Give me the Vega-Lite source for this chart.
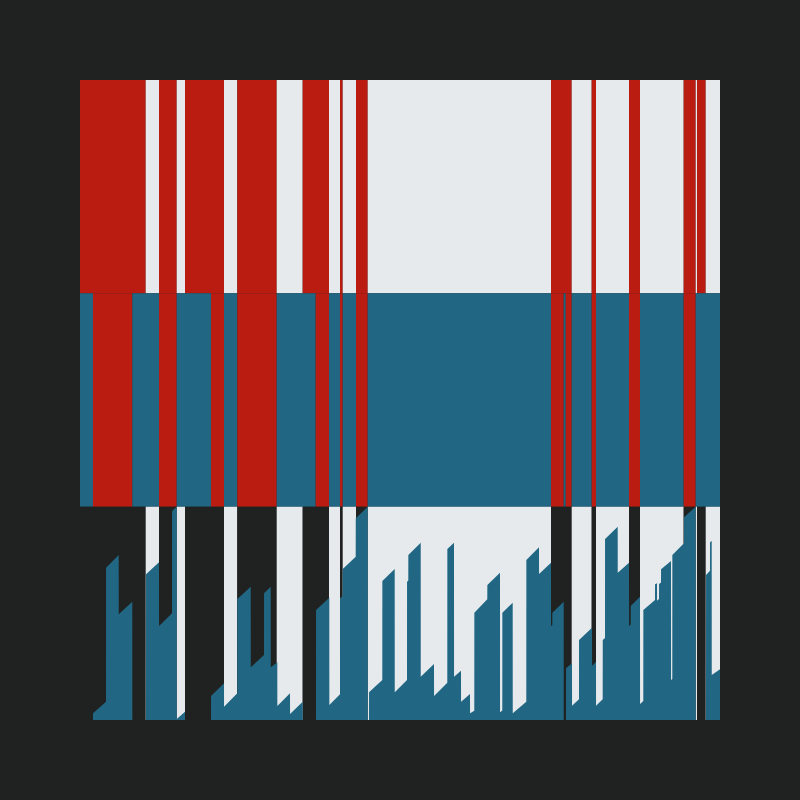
{
  "$schema": "https://vega.github.io/schema/vega-lite/v6.json",
  "width": 640,
  "height": 640,
  "padding": 80,
  "background": "#202221",
  "config": {"view": {"stroke": null}},
  "datasets": {
    "segs": [
      {"band": "top", "x0": 80, "x1": 145.7, "c": "red"},
      {"band": "top", "x0": 145.7, "x1": 159, "c": "light"},
      {"band": "top", "x0": 159, "x1": 176.7, "c": "red"},
      {"band": "top", "x0": 176.7, "x1": 185, "c": "light"},
      {"band": "top", "x0": 185, "x1": 224, "c": "red"},
      {"band": "top", "x0": 224, "x1": 237.3, "c": "light"},
      {"band": "top", "x0": 237.3, "x1": 276.7, "c": "red"},
      {"band": "top", "x0": 276.7, "x1": 302.7, "c": "light"},
      {"band": "top", "x0": 302.7, "x1": 329, "c": "red"},
      {"band": "top", "x0": 329, "x1": 340, "c": "light"},
      {"band": "top", "x0": 340, "x1": 342.7, "c": "red"},
      {"band": "top", "x0": 342.7, "x1": 356, "c": "light"},
      {"band": "top", "x0": 356, "x1": 367.7, "c": "red"},
      {"band": "top", "x0": 367.7, "x1": 551, "c": "light"},
      {"band": "top", "x0": 551, "x1": 571.7, "c": "red"},
      {"band": "top", "x0": 571.7, "x1": 591.7, "c": "light"},
      {"band": "top", "x0": 591.7, "x1": 596, "c": "red"},
      {"band": "top", "x0": 596, "x1": 629, "c": "light"},
      {"band": "top", "x0": 629, "x1": 640, "c": "red"},
      {"band": "top", "x0": 640, "x1": 683.7, "c": "light"},
      {"band": "top", "x0": 683.7, "x1": 695.7, "c": "red"},
      {"band": "top", "x0": 695.7, "x1": 697, "c": "light"},
      {"band": "top", "x0": 697, "x1": 705.7, "c": "red"},
      {"band": "top", "x0": 705.7, "x1": 720, "c": "light"},
      {"band": "mid", "x0": 80, "x1": 93, "c": "blue"},
      {"band": "mid", "x0": 93, "x1": 132.3, "c": "red"},
      {"band": "mid", "x0": 132.3, "x1": 159, "c": "blue"},
      {"band": "mid", "x0": 159, "x1": 176.7, "c": "red"},
      {"band": "mid", "x0": 176.7, "x1": 211, "c": "blue"},
      {"band": "mid", "x0": 211, "x1": 224, "c": "red"},
      {"band": "mid", "x0": 224, "x1": 237.3, "c": "blue"},
      {"band": "mid", "x0": 237.3, "x1": 276.7, "c": "red"},
      {"band": "mid", "x0": 276.7, "x1": 315.7, "c": "blue"},
      {"band": "mid", "x0": 315.7, "x1": 329, "c": "red"},
      {"band": "mid", "x0": 329, "x1": 340, "c": "blue"},
      {"band": "mid", "x0": 340, "x1": 342.7, "c": "red"},
      {"band": "mid", "x0": 342.7, "x1": 356, "c": "blue"},
      {"band": "mid", "x0": 356, "x1": 367.7, "c": "red"},
      {"band": "mid", "x0": 367.7, "x1": 551, "c": "blue"},
      {"band": "mid", "x0": 551, "x1": 563.7, "c": "red"},
      {"band": "mid", "x0": 563.7, "x1": 565.7, "c": "blue"},
      {"band": "mid", "x0": 565.7, "x1": 571.7, "c": "red"},
      {"band": "mid", "x0": 571.7, "x1": 591.7, "c": "blue"},
      {"band": "mid", "x0": 591.7, "x1": 596, "c": "red"},
      {"band": "mid", "x0": 596, "x1": 629, "c": "blue"},
      {"band": "mid", "x0": 629, "x1": 640, "c": "red"},
      {"band": "mid", "x0": 640, "x1": 683.7, "c": "blue"},
      {"band": "mid", "x0": 683.7, "x1": 695.7, "c": "red"},
      {"band": "mid", "x0": 695.7, "x1": 720, "c": "blue"},
      {"band": "bot", "x0": 80, "x1": 145.7, "c": "dark"},
      {"band": "bot", "x0": 145.7, "x1": 159, "c": "light"},
      {"band": "bot", "x0": 159, "x1": 176.7, "c": "dark"},
      {"band": "bot", "x0": 176.7, "x1": 185, "c": "light"},
      {"band": "bot", "x0": 185, "x1": 224, "c": "dark"},
      {"band": "bot", "x0": 224, "x1": 237.3, "c": "light"},
      {"band": "bot", "x0": 237.3, "x1": 276.7, "c": "dark"},
      {"band": "bot", "x0": 276.7, "x1": 302.7, "c": "light"},
      {"band": "bot", "x0": 302.7, "x1": 329, "c": "dark"},
      {"band": "bot", "x0": 329, "x1": 340, "c": "light"},
      {"band": "bot", "x0": 340, "x1": 342.7, "c": "dark"},
      {"band": "bot", "x0": 342.7, "x1": 356, "c": "light"},
      {"band": "bot", "x0": 356, "x1": 367.7, "c": "dark"},
      {"band": "bot", "x0": 367.7, "x1": 551, "c": "light"},
      {"band": "bot", "x0": 551, "x1": 571.7, "c": "dark"},
      {"band": "bot", "x0": 571.7, "x1": 591.7, "c": "light"},
      {"band": "bot", "x0": 591.7, "x1": 596, "c": "dark"},
      {"band": "bot", "x0": 596, "x1": 629, "c": "light"},
      {"band": "bot", "x0": 629, "x1": 640, "c": "dark"},
      {"band": "bot", "x0": 640, "x1": 683.7, "c": "light"},
      {"band": "bot", "x0": 683.7, "x1": 695.7, "c": "dark"},
      {"band": "bot", "x0": 695.7, "x1": 697, "c": "light"},
      {"band": "bot", "x0": 697, "x1": 705.7, "c": "dark"},
      {"band": "bot", "x0": 705.7, "x1": 720, "c": "light"}
    ],
    "area": [
      {"x": 93, "v": 0}, {"x": 93.05, "v": 6.7}, {"x": 106, "v": 18.3}, {"x": 106.05, "v": 152.3},
      {"x": 118.7, "v": 165}, {"x": 118.75, "v": 105.7}, {"x": 132.3, "v": 118.3}, {"x": 132.35, "v": 0},
      {"x": 146, "v": 0}, {"x": 146.05, "v": 145.7}, {"x": 159, "v": 157.7}, {"x": 159.05, "v": 94},
      {"x": 172, "v": 106.7}, {"x": 172.05, "v": 209}, {"x": 176.7, "v": 213.3}, {"x": 176.75, "v": 1},
      {"x": 185, "v": 8.3}, {"x": 185.05, "v": 0}, {"x": 211, "v": 0}, {"x": 211.05, "v": 24},
      {"x": 224, "v": 36.7}, {"x": 224.05, "v": 13.3}, {"x": 237.3, "v": 26.7}, {"x": 237.35, "v": 121},
      {"x": 250.7, "v": 133.3}, {"x": 250.75, "v": 52.7}, {"x": 264, "v": 65}, {"x": 264.05, "v": 126.7},
      {"x": 270.7, "v": 133.3}, {"x": 270.75, "v": 52.7}, {"x": 277.3, "v": 57.7}, {"x": 277.35, "v": 14},
      {"x": 290, "v": 26.7}, {"x": 290.05, "v": 6}, {"x": 302.7, "v": 18.3}, {"x": 302.75, "v": 0},
      {"x": 316, "v": 0}, {"x": 316.05, "v": 110}, {"x": 329.3, "v": 122.3}, {"x": 329.35, "v": 15},
      {"x": 340, "v": 25.7}, {"x": 340.05, "v": 121.7}, {"x": 342.7, "v": 124}, {"x": 342.75, "v": 151},
      {"x": 355.7, "v": 163.3}, {"x": 355.75, "v": 201.7}, {"x": 367.7, "v": 213.3}, {"x": 367.75, "v": 0},
      {"x": 369, "v": 0}, {"x": 369.05, "v": 27.7}, {"x": 382.3, "v": 40}, {"x": 382.35, "v": 139},
      {"x": 394.7, "v": 151}, {"x": 394.75, "v": 27.7}, {"x": 407, "v": 40}, {"x": 407.05, "v": 138.3},
      {"x": 408.3, "v": 139.5}, {"x": 408.35, "v": 165}, {"x": 420.7, "v": 177.3}, {"x": 420.75, "v": 43.3},
      {"x": 434, "v": 56}, {"x": 434.05, "v": 24}, {"x": 447.3, "v": 37.3}, {"x": 447.35, "v": 171},
      {"x": 454, "v": 177.3}, {"x": 454.05, "v": 43.3}, {"x": 461, "v": 49.3}, {"x": 461.05, "v": 18.3},
      {"x": 470, "v": 26}, {"x": 470.05, "v": 6.7}, {"x": 474.3, "v": 9.3}, {"x": 474.35, "v": 107.3},
      {"x": 487.3, "v": 120.7}, {"x": 487.35, "v": 135}, {"x": 500, "v": 147.3}, {"x": 500.05, "v": 7.7},
      {"x": 502.3, "v": 9.5}, {"x": 502.35, "v": 107.3}, {"x": 512.7, "v": 117.3}, {"x": 512.75, "v": 6.7},
      {"x": 526.3, "v": 18.3}, {"x": 526.35, "v": 160}, {"x": 539, "v": 172.7}, {"x": 539.05, "v": 146},
      {"x": 551, "v": 157.3}, {"x": 551.05, "v": 94}, {"x": 552.3, "v": 95}, {"x": 552.35, "v": 107.3},
      {"x": 563.7, "v": 118.3}, {"x": 563.75, "v": 0}, {"x": 566, "v": 0}, {"x": 566.05, "v": 51.7},
      {"x": 572, "v": 56.7}, {"x": 572.05, "v": 14.3}, {"x": 579, "v": 20.7}, {"x": 579.05, "v": 80},
      {"x": 592, "v": 92.3}, {"x": 592.05, "v": 54.3}, {"x": 596, "v": 58}, {"x": 596.05, "v": 14.3},
      {"x": 602.7, "v": 20.7}, {"x": 602.75, "v": 80}, {"x": 605, "v": 82}, {"x": 605.05, "v": 181},
      {"x": 617.7, "v": 193.3}, {"x": 617.75, "v": 147.3}, {"x": 629, "v": 157.3}, {"x": 629.05, "v": 94},
      {"x": 630.7, "v": 95.5}, {"x": 630.75, "v": 114}, {"x": 640, "v": 123.3}, {"x": 640.05, "v": 16},
      {"x": 643.3, "v": 19}, {"x": 643.35, "v": 110}, {"x": 655, "v": 120}, {"x": 655.05, "v": 135.7},
      {"x": 657, "v": 136.7}, {"x": 657.05, "v": 119.3}, {"x": 659, "v": 121}, {"x": 659.05, "v": 136},
      {"x": 661, "v": 137.5}, {"x": 661.05, "v": 150.7}, {"x": 671, "v": 159}, {"x": 671.05, "v": 40},
      {"x": 672.3, "v": 41}, {"x": 672.35, "v": 165}, {"x": 684, "v": 176.7}, {"x": 684.05, "v": 202.7},
      {"x": 695.7, "v": 213.3}, {"x": 695.75, "v": 0}, {"x": 706, "v": 0}, {"x": 706.05, "v": 145},
      {"x": 710, "v": 149.3}, {"x": 710.05, "v": 177.7}, {"x": 711.7, "v": 179}, {"x": 711.75, "v": 45},
      {"x": 720, "v": 50.7}
    ]
  },
  "layer": [
    {
      "data": {"name": "segs"},
      "mark": {"type": "rect"},
      "encoding": {
        "x": {"field": "x0", "type": "quantitative", "scale": {"domain": [80, 720], "nice": false, "zero": false}, "axis": null},
        "x2": {"field": "x1"},
        "y": {"field": "band", "type": "nominal", "scale": {"domain": ["top", "mid", "bot"], "paddingInner": 0, "paddingOuter": 0}, "axis": null},
        "color": {"field": "c", "type": "nominal", "scale": {"domain": ["red", "light", "blue", "dark"], "range": ["#bb1c12", "#e6eaed", "#216784", "#202221"]}, "legend": null}
      }
    },
    {
      "data": {"name": "area"},
      "mark": {"type": "area", "color": "#216784", "interpolate": "linear"},
      "encoding": {
        "x": {"field": "x", "type": "quantitative", "scale": {"domain": [80, 720], "nice": false, "zero": false}, "axis": null},
        "y": {"field": "v", "type": "quantitative", "scale": {"domain": [0, 640], "nice": false, "zero": true}, "axis": null}
      }
    }
  ],
  "resolve": {"scale": {"y": "independent"}}
}
